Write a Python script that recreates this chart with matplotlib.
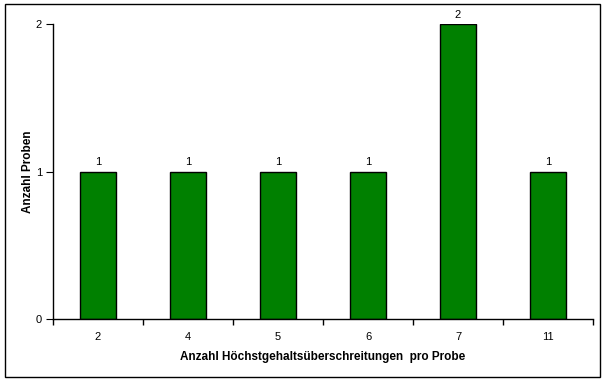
import matplotlib.pyplot as plt
from matplotlib.patches import Rectangle

plt.rcParams['font.family'] = ['Liberation Sans', 'DejaVu Sans']

# Data
categories = ['2', '4', '5', '6', '7', '11']
counts = [1, 1, 1, 1, 2, 1]

W, H = 604, 383
fig = plt.figure(figsize=(W / 100, H / 100), dpi=100)
ax = fig.add_axes([53 / W, 1 - 319 / H, 540 / W, 295 / H])

x = list(range(len(categories)))
bars = ax.bar(x, counts, width=0.41, color='#008000', edgecolor='black', linewidth=1)

for xi, v in zip(x, counts):
    ax.text(xi, v + 0.03, str(v), ha='center', va='bottom', fontsize=8)

ax.set_xlim(-0.5, len(categories) - 0.5)
ax.set_ylim(0, 2)
ax.set_yticks([0, 1, 2])
ax.set_xticks(x)
ax.set_xticklabels(categories)
ax.set_xticks([i - 0.5 for i in range(len(categories) + 1)], minor=True)
ax.tick_params(axis='x', which='major', length=0, pad=9, labelsize=8)
ax.tick_params(axis='x', which='minor', length=4, direction='out', width=1)
ax.tick_params(axis='y', length=5, direction='out', labelsize=8, pad=3)

for s in ['top', 'right']:
    ax.spines[s].set_visible(False)
for s in ['left', 'bottom']:
    ax.spines[s].set_linewidth(1)

ax.set_xlabel('Anzahl Höchstgehaltsüberschreitungen  pro Probe', fontsize=8.5,
              fontweight='bold', labelpad=7)
ax.set_ylabel('Anzahl Proben', fontsize=8.5, fontweight='bold')
ax.yaxis.set_label_coords(-0.036, 0.5)

# outer chart border
fig.patches.append(Rectangle((5 / W, 1 - 377 / H), 595 / W, 373 / H,
                             transform=fig.transFigure, fill=False,
                             edgecolor='black', linewidth=1))

fig.savefig('out.png', dpi=100)
